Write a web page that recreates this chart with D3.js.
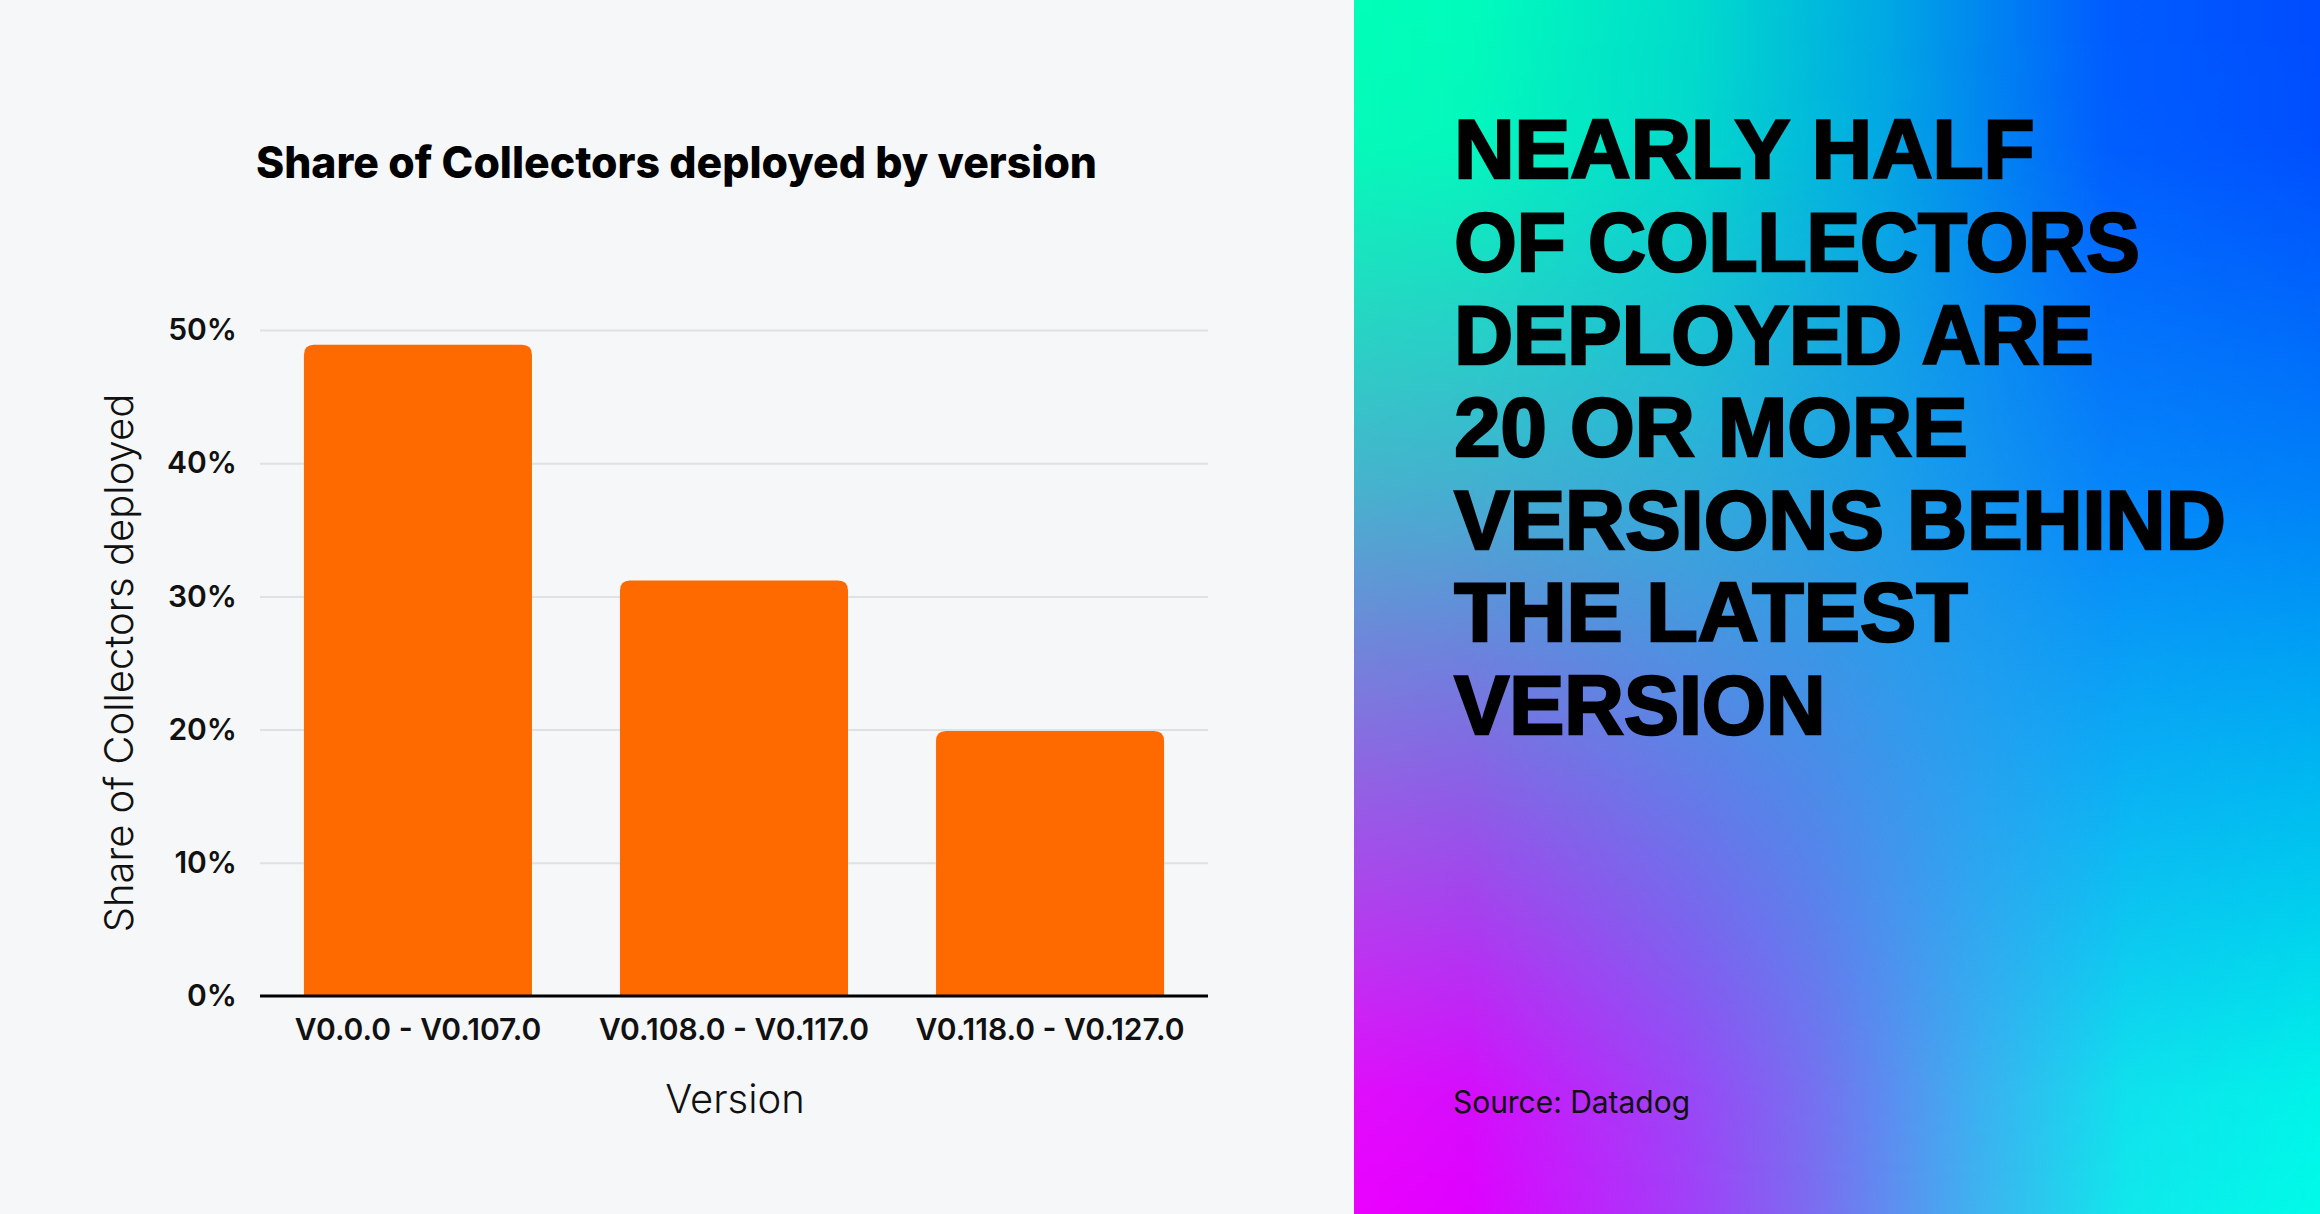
<!DOCTYPE html>
<html>
<head>
<meta charset="utf-8">
<script src="https://cdn.jsdelivr.net/npm/d3@7/dist/d3.min.js"></script>
<style>
html,body{margin:0;padding:0;background:#f5f7f9;}
svg{display:block;}
</style>
</head>
<body>
<svg id="chart" width="2320" height="1214"></svg>
<script>
// ---- data ----
const categories = ["V0.0.0 - V0.107.0", "V0.108.0 - V0.117.0", "V0.118.0 - V0.127.0"];
const shares = [48.9, 31.2, 19.9];
const yTicks = [0, 10, 20, 30, 40, 50];
const titleText = "Share of Collectors deployed by version";
const yLabel = "Share of Collectors deployed";
const xLabel = "Version";
const headline = ["NEARLY HALF", "OF COLLECTORS", "DEPLOYED ARE", "20 OR MORE", "VERSIONS BEHIND", "THE LATEST", "VERSION"];
const headlineWidths = [583, 688, 642, 516, 774, 516, 374];
const sourceText = "Source: Datadog";

const W = 2320, H = 1214;
const svg = d3.select("#chart");
const defs = svg.append("defs");

// left background
svg.append("rect").attr("x",0).attr("y",0).attr("width",1354).attr("height",H).attr("fill","#f5f7f9");

// ---- right gradient panel ----
const px = 1354, pw = W - px;
const topG = defs.append("linearGradient").attr("id","gTop").attr("x1",0).attr("x2",1).attr("y1",0).attr("y2",0);
[[0,"#00ffb8"],[0.12,"#00fcbc"],[0.35,"#00dccc"],[0.55,"#00a8e4"],[0.78,"#005cff"],[1,"#004cff"]]
  .forEach(s=>topG.append("stop").attr("offset",s[0]).attr("stop-color",s[1]));
const botG = defs.append("linearGradient").attr("id","gBot").attr("x1",0).attr("x2",1).attr("y1",0).attr("y2",0);
[[0,"#ec00ff"],[0.12,"#e000ff"],[0.35,"#a040f8"],[0.48,"#7a6ef0"],[0.64,"#40b0f0"],[0.8,"#10e8ec"],[1,"#00fce8"]]
  .forEach(s=>botG.append("stop").attr("offset",s[0]).attr("stop-color",s[1]));
const vG = defs.append("linearGradient").attr("id","gV").attr("x1",0).attr("x2",0).attr("y1",0).attr("y2",1);
[[0,0],[0.12,0.02],[0.4,0.3],[0.55,0.5],[0.75,0.75],[0.9,0.95],[1,1]]
  .forEach(s=>vG.append("stop").attr("offset",s[0]).attr("stop-color","#fff").attr("stop-opacity",s[1]));
const mask = defs.append("mask").attr("id","mV").attr("maskUnits","userSpaceOnUse")
  .attr("x",px).attr("y",0).attr("width",pw).attr("height",H);
mask.append("rect").attr("x",px).attr("y",0).attr("width",pw).attr("height",H).attr("fill","url(#gV)");
svg.append("rect").attr("x",px).attr("y",0).attr("width",pw).attr("height",H).attr("fill","url(#gTop)");
svg.append("rect").attr("x",px).attr("y",0).attr("width",pw).attr("height",H).attr("fill","url(#gBot)").attr("mask","url(#mV)");

// ---- chart ----
const plot = {left:260, right:1208, top:330, bottom:996};
const x = d3.scaleBand().domain(categories).range([plot.left, plot.right]).paddingInner(0.2785).paddingOuter(0.139);
const y = d3.scaleLinear().domain([0,50]).range([plot.bottom, plot.top]);

const fontUI = "Inter, 'Noto Sans', 'DejaVu Sans', sans-serif";

// y axis with gridlines
const yAxis = svg.append("g").attr("transform",`translate(${plot.left},0)`)
  .call(d3.axisLeft(y).tickValues(yTicks).tickFormat(d=>d+"%").tickSize(-(plot.right-plot.left)).tickPadding(23));
yAxis.select(".domain").remove();
yAxis.selectAll(".tick line").attr("stroke","#dfe1e4").attr("stroke-width",2)
  .filter(d=>d===0).remove();
yAxis.selectAll(".tick text").attr("font-family",fontUI).attr("font-size",30).attr("font-weight",600).attr("fill","#111");

// bars with rounded tops
const r = 10;
function barPath(d,i){
  const x0 = x(categories[i]), x1 = x0 + x.bandwidth();
  const yt = y(d), yb = y(0);
  return `M${x0},${yb}V${yt+r}Q${x0},${yt} ${x0+r},${yt}H${x1-r}Q${x1},${yt} ${x1},${yt+r}V${yb}Z`;
}
svg.append("g").selectAll("path").data(shares).join("path")
  .attr("d",barPath).attr("fill","#ff6a00");

// x axis
const xAxis = svg.append("g").attr("transform",`translate(0,${plot.bottom})`)
  .call(d3.axisBottom(x).tickSize(0).tickPadding(22.7));
xAxis.select(".domain").remove();
xAxis.selectAll(".tick text").attr("font-family",fontUI).attr("font-size",30).attr("font-weight",600).attr("fill","#111");
svg.append("line").attr("x1",plot.left).attr("x2",plot.right).attr("y1",plot.bottom).attr("y2",plot.bottom)
  .attr("stroke","#000").attr("stroke-width",3);

// axis titles
svg.append("text").attr("transform",`translate(133,${(plot.top+plot.bottom)/2}) rotate(-90)`)
  .attr("text-anchor","middle").attr("font-family",fontUI).attr("font-size",40).attr("font-weight",300).attr("fill","#111")
  .text(yLabel);
svg.append("text").attr("x",735).attr("y",1113).attr("text-anchor","middle")
  .attr("font-family",fontUI).attr("font-size",40).attr("font-weight",300).attr("fill","#111").text(xLabel);

// title
svg.append("text").attr("x",256).attr("y",178)
  .attr("font-family",fontUI).attr("font-size",44).attr("font-weight",800).attr("fill","#000").text(titleText)
  .attr("textLength",841).attr("lengthAdjust","spacingAndGlyphs");

// headline: one text per line, compact line boxes, stroke for heavy weight
const hg = svg.append("g");
headline.forEach((line,i)=>{
  hg.append("text").attr("x",1454.2).attr("y",178.4 + i*92.6)
    .attr("font-family","'Liberation Sans', Arial, sans-serif").attr("font-size",82.5).attr("font-weight",700)
    .attr("fill","#000").attr("stroke","#000").attr("stroke-width",2.5)
    .attr("textLength",headlineWidths[i]-2.5).attr("lengthAdjust","spacingAndGlyphs").text(line);
});

svg.append("text").attr("x",1453).attr("y",1113).attr("font-family",fontUI).attr("font-size",31)
  .attr("font-weight",400).attr("fill","#111").attr("textLength",237).attr("lengthAdjust","spacingAndGlyphs").text(sourceText);
</script>
</body>
</html>
